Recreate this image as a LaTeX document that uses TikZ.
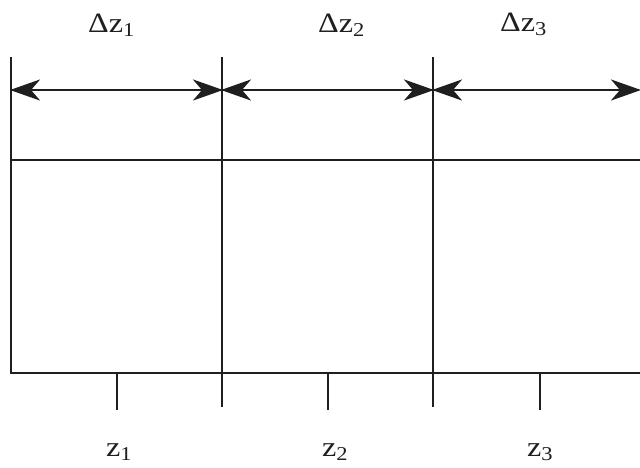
\documentclass[tikz,border=0pt]{standalone}
\usepackage{fontspec}
\setmainfont{Liberation Serif}
\newfontfamily\lblfont[FakeStretch=1.15]{Liberation Serif}
\usetikzlibrary{arrows.meta}
\begin{document}
\begin{tikzpicture}[x=1pt,y=-1pt,
  ln/.style={line width=2.8pt, draw=black!88},
  dim/.style={ln, {Stealth[length=30pt,width=21pt,inset=9pt]}-{Stealth[length=30pt,width=21pt,inset=9pt]}, shorten <=-1pt, shorten >=-1pt},
  lbl/.style={font=\lblfont\fontsize{28}{33}\selectfont, inner sep=0pt, anchor=base west, text=black!88}]
\useasboundingbox (0,0) rectangle (640,467);
% grid coordinates
\coordinate (a0) at (11,57);
\coordinate (a1) at (222,57);
\coordinate (a2) at (433,57);
\coordinate (m0) at (11,90);
\coordinate (m1) at (222,90);
\coordinate (m2) at (433,90);
\coordinate (m3) at (640,90);
\coordinate (h0) at (11,160);
\coordinate (h3) at (641,160);
\coordinate (b0) at (11,373);
\coordinate (b3) at (641,373);
\coordinate (e1) at (222,407);
\coordinate (e2) at (433,407);
\coordinate (t1a) at (117,373);
\coordinate (t1b) at (117,410);
\coordinate (t2a) at (328,373);
\coordinate (t2b) at (328,410);
\coordinate (t3a) at (540,373);
\coordinate (t3b) at (540,410);
% frame
\draw[ln] (a0) -- (b0) -- (b3);
\draw[ln] (a1) -- (e1);
\draw[ln] (a2) -- (e2);
\draw[ln] (h0) -- (h3);
% ticks
\draw[ln] (t1a) -- (t1b);
\draw[ln] (t2a) -- (t2b);
\draw[ln] (t3a) -- (t3b);
% dimension arrows
\draw[dim] (m0) -- (m1);
\draw[dim] (m1) -- (m2);
\draw[dim] (m2) -- (m3);
% labels
\node[lbl] (d1) at (88,32) {Δz\textsubscript{1}};
\node[lbl] (d2) at (318,32) {Δz\textsubscript{2}};
\node[lbl] (d3) at (500,31) {Δz\textsubscript{3}};
\node[lbl] (z1) at (106,456) {z\textsubscript{1}};
\node[lbl] (z2) at (322,456) {z\textsubscript{2}};
\node[lbl] (z3) at (527,456) {z\textsubscript{3}};
\end{tikzpicture}
\end{document}
